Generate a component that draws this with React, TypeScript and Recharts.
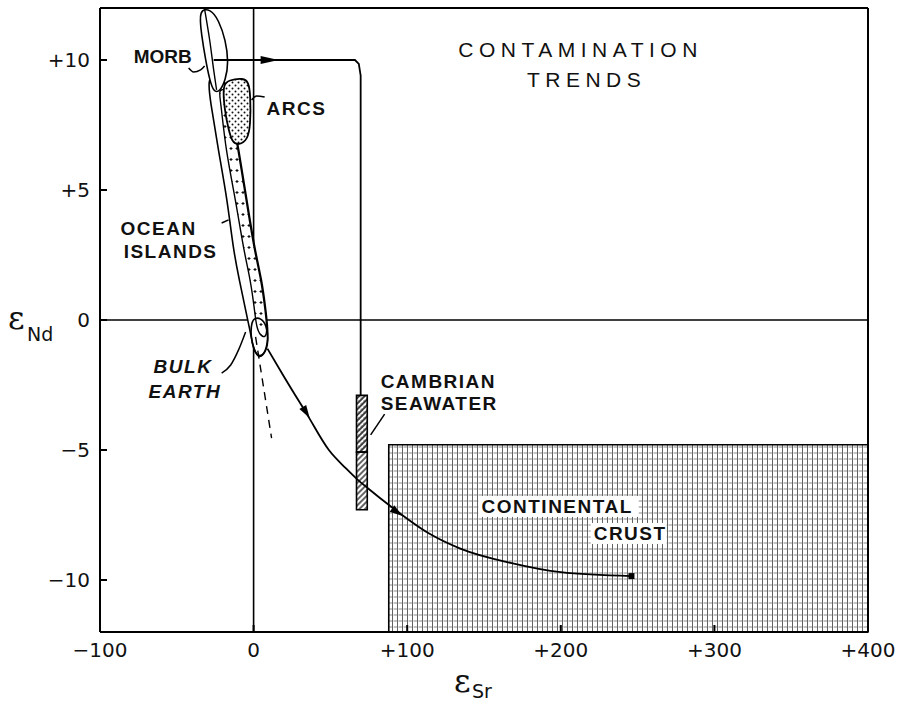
import React from "react";
import {
  ComposedChart,
  XAxis,
  YAxis,
  Scatter,
  ReferenceArea,
  ReferenceLine,
} from "recharts";

type Pt = { x: number; y: number };

const xTicks = [-100, 0, 100, 200, 300, 400];
const yTicks = [-10, -5, 0, 5, 10];

// fields (eSr, eNd)
const morbField: Pt[] = [
  { x: -35.8, y: 11.96 }, { x: -33.9, y: 10.96 }, { x: -31.25, y: 10.0 },
  { x: -28.6, y: 9.23 }, { x: -26.0, y: 8.77 }, { x: -22.1, y: 8.77 },
  { x: -18.2, y: 9.23 }, { x: -16.3, y: 9.92 }, { x: -18.2, y: 10.77 },
  { x: -22.8, y: 11.54 }, { x: -27.9, y: 11.96 },
];
const morbInner: Pt[] = [
  { x: -31.9, y: 11.96 }, { x: -28.6, y: 10.77 }, { x: -26.0, y: 9.62 }, { x: -24.1, y: 8.85 },
];
const oceanIslands: Pt[] = [
  { x: -24.7, y: 9.6 }, { x: -30.0, y: 9.23 }, { x: -28.2, y: 8.46 },
  { x: -23.0, y: 6.54 }, { x: -17.1, y: 4.62 }, { x: -13.2, y: 2.69 },
  { x: -9.3, y: 1.54 }, { x: -5.2, y: 0.38 }, { x: -2.4, y: -0.38 },
  { x: -0.2, y: -1.1 }, { x: 3.3, y: -1.5 }, { x: 8.0, y: -1.25 },
  { x: 9.8, y: -0.58 }, { x: 8.0, y: 0.38 }, { x: 5.4, y: 1.54 },
  { x: 0.85, y: 2.69 }, { x: -4.4, y: 4.62 }, { x: -9.6, y: 6.54 },
  { x: -15.4, y: 8.46 }, { x: -19.2, y: 9.3 },
];
const oceanIslandsInner: Pt[] = [
  { x: -22.8, y: 8.85 }, { x: -21.5, y: 8.46 }, { x: -18.2, y: 6.54 },
  { x: -11.7, y: 4.62 }, { x: -6.5, y: 2.69 }, { x: -2.0, y: 1.54 },
  { x: 0.65, y: 0.38 }, { x: 2.0, y: -0.38 }, { x: 6.0, y: -0.7 },
  { x: 9.3, y: -0.58 }, { x: 7.5, y: 0.38 }, { x: 4.9, y: 1.54 },
  { x: 0.35, y: 2.69 }, { x: -4.9, y: 4.62 }, { x: -10.1, y: 6.54 },
  { x: -15.9, y: 8.46 }, { x: -18.5, y: 8.9 },
];
const bulkEarth: Pt[] = [
  { x: -1.3, y: -0.08 }, { x: -2.0, y: -0.58 }, { x: 0.0, y: -1.15 },
  { x: 3.3, y: -1.42 }, { x: 7.2, y: -1.31 }, { x: 9.8, y: -0.85 },
  { x: 8.5, y: -0.19 }, { x: 4.6, y: 0.08 }, { x: 0.65, y: 0.08 },
];
const arcsField: Pt[] = [
  { x: -20.2, y: 9.04 }, { x: -16.3, y: 9.23 }, { x: -6.5, y: 9.31 },
  { x: -3.3, y: 9.15 }, { x: -2.0, y: 8.65 }, { x: -2.0, y: 7.5 },
  { x: -3.9, y: 6.92 }, { x: -9.8, y: 6.73 }, { x: -13.7, y: 6.81 },
  { x: -16.3, y: 7.31 }, { x: -18.9, y: 8.08 },
];

const continentalCrust = { x1: 88, x2: 400, y1: -12, y2: -4.8 };
const seawaterUpper = { x1: 67, x2: 74, y1: -5.08, y2: -2.9 };
const seawaterLower = { x1: 67, x2: 74, y1: -7.3, y2: -5.08 };

// contamination trends
const seawaterTrend: Pt[] = [
  { x: -26, y: 10 }, { x: 66, y: 10 }, { x: 68.5, y: 9.85 },
  { x: 69.7, y: 9.4 }, { x: 69.7, y: -2.9 },
];
const crustTrend: Pt[] = [
  { x: 9, y: -1.1 }, { x: 20, y: -2.2 }, { x: 34.5, y: -3.6 }, { x: 49, y: -5.0 },
  { x: 60, y: -5.7 }, { x: 67, y: -6.1 }, { x: 75, y: -6.5 }, { x: 90, y: -7.2 },
  { x: 114, y: -8.2 }, { x: 135, y: -8.8 }, { x: 168, y: -9.35 }, { x: 200, y: -9.7 },
  { x: 246, y: -9.85 },
];
const islandExtension: Pt[] = [{ x: 1.3, y: -0.65 }, { x: 11.7, y: -4.54 }];
const trendEnd: Pt[] = [{ x: 246, y: -9.85 }];

const arrows = [
  { x: 16.3, y: 10, angle: 0, big: true },
  { x: 36.5, y: -3.77, angle: 58, big: false },
  { x: 97, y: -7.54, angle: 35, big: false },
];

const leaders: Pt[][] = [
  [{ x: -42.3, y: 9.69 }, { x: -39.1, y: 9.54 }, { x: -34.5, y: 9.62 }, { x: -31.9, y: 9.77 }],
  [{ x: -1.3, y: 8.46 }, { x: 2, y: 8.62 }, { x: 7.2, y: 8.58 }],
  [{ x: -20.8, y: 3.73 }, { x: -16.3, y: 3.85 }],
  [{ x: -20.8, y: -2.04 }, { x: -14.9, y: -1.73 }, { x: -9.8, y: -1.15 }, { x: -5.2, y: -0.46 }],
  [{ x: 76.2, y: -4.42 }, { x: 85.3, y: -3.62 }],
];

const labels = [
  { x: -78.1, y: 9.88, text: "MORB" },
  { x: 8.46, y: 7.88, text: "ARCS" },
  { x: -86.6, y: 3.27, text: "OCEAN" },
  { x: -84.6, y: 2.38, text: "ISLANDS" },
  { x: -65.1, y: -2.04, text: "BULK", italic: true },
  { x: -68.4, y: -3.0, text: "EARTH", italic: true },
  { x: 82.7, y: -2.62, text: "CAMBRIAN" },
  { x: 82.7, y: -3.46, text: "SEAWATER" },
  { x: 148.4, y: -7.42, text: "CONTINENTAL", bg: true },
  { x: 221.4, y: -8.46, text: "CRUST", bg: true },
  { x: 212.9, y: 10.12, text: "CONTAMINATION", title: true },
  { x: 216.8, y: 8.96, text: "TRENDS", title: true },
];

const fmt = (v: number) => (v > 0 ? `+${v}` : v < 0 ? `\u2212${Math.abs(v)}` : "0");

const Nothing = () => <g />;

const ArrowShape = (props: any) => {
  const { cx, cy, payload } = props;
  const len = payload.big ? 18 : 13;
  return (
    <path
      d={`M0,0 L${-len},-4 L${-len},4 Z`}
      transform={`translate(${cx},${cy}) rotate(${payload.angle})`}
      fill="#000"
    />
  );
};

const EndShape = (props: any) => (
  <rect x={props.cx - 3} y={props.cy - 3} width={6} height={6} fill="#000" />
);

const LabelShape = (props: any) => {
  const { cx, cy, payload } = props;
  if (payload.title) {
    return (
      <text
        x={cx}
        y={cy}
        textAnchor="middle"
        fontFamily="Liberation Sans, Arial, sans-serif"
        fontSize={21}
        letterSpacing={5.5}
        fill="#111"
      >
        {payload.text}
      </text>
    );
  }
  const w = payload.text.length * 14 + 2;
  return (
    <g>
      {payload.bg && <rect x={cx - 3} y={cy - 17} width={w + 4} height={21} fill="#fff" />}
      <text
        x={cx}
        y={cy}
        fontFamily="Liberation Sans, Arial, sans-serif"
        fontWeight="bold"
        fontStyle={payload.italic ? "italic" : "normal"}
        fontSize={19}
        letterSpacing={payload.text === "MORB" ? 0 : 1.5}
        fill="#111"
      >
        {payload.text}
      </text>
    </g>
  );
};

const Patterns = () => (
  <svg width={0} height={0} style={{ position: "absolute" }}>
    <defs>
      <pattern id="crustGrid" patternUnits="userSpaceOnUse" width={5} height={6}>
        <rect width={5} height={6} fill="#fff" />
        <line x1={2.5} y1={0} x2={2.5} y2={6} stroke="#3a3a3a" strokeWidth={0.8} />
        <line x1={0} y1={3} x2={5} y2={3} stroke="#555" strokeWidth={0.7} strokeDasharray="2 1.5" />
      </pattern>
      <pattern id="arcDots" patternUnits="userSpaceOnUse" width={6} height={6}>
        <rect width={6} height={6} fill="#fff" />
        <circle cx={1.5} cy={1.5} r={1} fill="#111" />
        <circle cx={4.5} cy={4.5} r={1} fill="#111" />
      </pattern>
      <pattern id="islandDots" patternUnits="userSpaceOnUse" width={6} height={11}>
        <rect width={6} height={11} fill="#fff" />
        <path d="M3,4 V7 M1.5,5.5 H4.5" stroke="#111" strokeWidth={1.1} />
      </pattern>
      <pattern id="hatch" patternUnits="userSpaceOnUse" width={4} height={4} patternTransform="rotate(-45)">
        <rect width={4} height={4} fill="#fff" />
        <line x1={0} y1={2} x2={4} y2={2} stroke="#111" strokeWidth={1.3} />
      </pattern>
      <pattern id="hatchDense" patternUnits="userSpaceOnUse" width={4} height={4} patternTransform="rotate(-45)">
        <rect width={4} height={4} fill="#fff" />
        <line x1={0} y1={2} x2={4} y2={2} stroke="#111" strokeWidth={1.6} />
        <line x1={2} y1={0} x2={2} y2={4} stroke="#111" strokeWidth={0.6} strokeDasharray="1 1" />
      </pattern>
    </defs>
  </svg>
);

const axisLine = { stroke: "#000", strokeWidth: 2 };
const tickLine = { stroke: "#000", strokeWidth: 2 };
const tickFont = { fill: "#111", fontSize: 20, fontFamily: "DejaVu Sans, sans-serif" };

export default function App() {
  return (
    <div style={{ position: "absolute", left: 0, top: 0, width: 901, height: 702, background: "#fff" }}>
      <Patterns />
      <ComposedChart width={901} height={702} margin={{ top: 0, right: 28, bottom: 30, left: 40 }}>
        <XAxis
          type="number"
          dataKey="x"
          domain={[-100, 400]}
          ticks={xTicks}
          interval={0}
          allowDataOverflow
          tickFormatter={fmt}
          axisLine={axisLine}
          tickLine={tickLine}
          tickSize={-7}
          tickMargin={18}
          tick={tickFont}
          height={40}
        />
        <XAxis
          xAxisId="top"
          orientation="top"
          type="number"
          dataKey="x"
          domain={[-100, 400]}
          ticks={xTicks}
          interval={0}
          allowDataOverflow
          axisLine={axisLine}
          tickLine={tickLine}
          tickSize={-7}
          tick={false}
          height={8}
        />
        <YAxis
          type="number"
          dataKey="y"
          domain={[-12, 12]}
          ticks={yTicks}
          interval={0}
          allowDataOverflow
          tickFormatter={fmt}
          axisLine={axisLine}
          tickLine={tickLine}
          tickSize={-7}
          tickMargin={17}
          tick={tickFont}
          width={60}
        />
        <YAxis
          yAxisId="r"
          orientation="right"
          type="number"
          dataKey="y"
          domain={[-12, 12]}
          ticks={yTicks}
          interval={0}
          allowDataOverflow
          axisLine={axisLine}
          tickLine={tickLine}
          tickSize={-7}
          tick={false}
          width={5}
        />

        <ReferenceArea {...continentalCrust} fill="url(#crustGrid)" fillOpacity={1} stroke="#000" strokeWidth={1.6} />
        <ReferenceArea {...seawaterUpper} fill="url(#hatchDense)" fillOpacity={1} stroke="#000" strokeWidth={1.6} />
        <ReferenceArea {...seawaterLower} fill="url(#hatch)" fillOpacity={1} stroke="#000" strokeWidth={1.6} />
        <ReferenceLine x={0} stroke="#000" strokeWidth={1.6} />
        <ReferenceLine y={0} stroke="#000" strokeWidth={1.6} />

        <Scatter data={oceanIslands} fill="#000" shape={Nothing} isAnimationActive={false}
          line={{ stroke: "#000", strokeWidth: 1.6, fill: "#fff" }} lineType="joint" lineJointType="basisClosed" />
        <Scatter data={oceanIslandsInner} fill="#000" shape={Nothing} isAnimationActive={false}
          line={{ stroke: "#000", strokeWidth: 1.4, fill: "url(#islandDots)" }} lineType="joint" lineJointType="basisClosed" />
        <Scatter data={bulkEarth} fill="#000" shape={Nothing} isAnimationActive={false}
          line={{ stroke: "#000", strokeWidth: 1.6, fill: "none" }} lineType="joint" lineJointType="basisClosed" />
        <Scatter data={morbField} fill="#000" shape={Nothing} isAnimationActive={false}
          line={{ stroke: "#000", strokeWidth: 1.6, fill: "#fff" }} lineType="joint" lineJointType="basisClosed" />
        <Scatter data={morbInner} fill="#000" shape={Nothing} isAnimationActive={false}
          line={{ stroke: "#000", strokeWidth: 1.4, fill: "none" }} lineType="joint" lineJointType="monotoneY" />
        <Scatter data={arcsField} fill="#000" shape={Nothing} isAnimationActive={false}
          line={{ stroke: "#000", strokeWidth: 1.8, fill: "url(#arcDots)" }} lineType="joint" lineJointType="basisClosed" />

        <Scatter data={islandExtension} fill="#000" shape={Nothing} isAnimationActive={false}
          line={{ stroke: "#000", strokeWidth: 1.4, strokeDasharray: "8 6" }} lineType="joint" />
        <Scatter data={seawaterTrend} fill="#000" shape={Nothing} isAnimationActive={false}
          line={{ stroke: "#000", strokeWidth: 1.8 }} lineType="joint" lineJointType="linear" />
        <Scatter data={crustTrend} fill="#000" shape={Nothing} isAnimationActive={false}
          line={{ stroke: "#000", strokeWidth: 1.8 }} lineType="joint" lineJointType="monotoneX" />
        <Scatter data={trendEnd} fill="#000" shape={EndShape} isAnimationActive={false} />
        <Scatter data={arrows} fill="#000" shape={ArrowShape} isAnimationActive={false} />

        {leaders.map((pts, i) => (
          <Scatter key={i} data={pts} fill="#000" shape={Nothing} isAnimationActive={false}
            line={{ stroke: "#000", strokeWidth: 1.5 }} lineType="joint" lineJointType="monotoneX" />
        ))}

        <Scatter data={labels} fill="#000" shape={LabelShape} isAnimationActive={false} />
      </ComposedChart>

      <div style={{ position: "absolute", left: 8, top: 300, fontFamily: "DejaVu Serif, serif", fontSize: 32, color: "#111", lineHeight: "36px" }}>
        ε
      </div>
      <div style={{ position: "absolute", left: 27, top: 323, fontFamily: "DejaVu Sans, sans-serif", fontSize: 19, color: "#111", lineHeight: "22px" }}>
        Nd
      </div>
      <div style={{ position: "absolute", left: 454, top: 663, fontFamily: "DejaVu Serif, serif", fontSize: 32, color: "#111", lineHeight: "36px" }}>
        ε
      </div>
      <div style={{ position: "absolute", left: 472, top: 680, fontFamily: "DejaVu Sans, sans-serif", fontSize: 19, color: "#111", lineHeight: "22px" }}>
        Sr
      </div>
    </div>
  );
}
